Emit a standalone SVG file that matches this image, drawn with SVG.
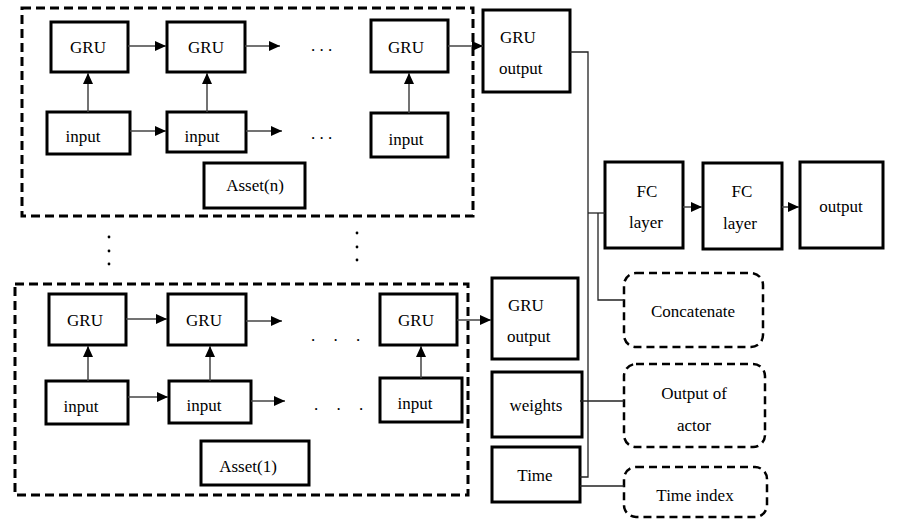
<svg xmlns="http://www.w3.org/2000/svg" width="899" height="526" viewBox="0 0 899 526" font-family="'Liberation Serif', 'DejaVu Serif', serif">
<style>
.b{fill:#fff;stroke:#000;stroke-width:3}
.d{fill:none;stroke:#000;stroke-width:3;stroke-dasharray:9 5}
.r{fill:#fff;stroke:#000;stroke-width:2.5;stroke-dasharray:8 5}
.c{fill:none;stroke:#222;stroke-width:1.3}
.a{fill:none;stroke:#444;stroke-width:1.5;marker-end:url(#ah)}
text{font-family:'Liberation Serif','DejaVu Serif',serif;font-size:17px;fill:#000}
.m{text-anchor:middle}
</style>
<defs>
<marker id="ah" markerUnits="userSpaceOnUse" markerWidth="12" markerHeight="12" refX="11" refY="6" orient="auto">
<path d="M0,1 L11,6 L0,11 Z" fill="#000"/>
</marker>
</defs>
<g id="assetN">
<rect class="d" x="22" y="8" width="451" height="208"/>
<g id="n-gru1"><rect class="b" x="51" y="22" width="77" height="50"/><text class="m" x="88" y="53">GRU</text></g>
<g id="n-gru2"><rect class="b" x="167" y="22" width="78" height="50"/><text class="m" x="206" y="53">GRU</text></g>
<g id="n-gru3"><rect class="b" x="371" y="20" width="77" height="52"/><text class="m" x="406" y="53">GRU</text></g>
<g id="n-in1"><rect class="b" x="47" y="112" width="83" height="42"/><text class="m" x="83" y="142">input</text></g>
<g id="n-in2"><rect class="b" x="167" y="112" width="79" height="40"/><text class="m" x="202" y="142">input</text></g>
<g id="n-in3"><rect class="b" x="371" y="113" width="77" height="44"/><text class="m" x="406" y="145">input</text></g>
<g id="n-asset"><rect class="b" x="204" y="163" width="101" height="45"/><text class="m" x="255" y="191">Asset(n)</text></g>
<text x="311" y="51">. . .</text>
<text x="311" y="139">. . .</text>
</g>
<g id="dots">
<circle cx="109" cy="237" r="1.4"/><circle cx="109" cy="251" r="1.4"/><circle cx="109" cy="264" r="1.4"/>
<circle cx="357" cy="233" r="1.4"/><circle cx="357" cy="247" r="1.4"/><circle cx="357" cy="260" r="1.4"/>
</g>
<g id="asset1">
<rect class="d" x="15" y="284" width="453" height="211"/>
<g id="a-gru1"><rect class="b" x="49" y="294" width="77" height="51"/><text class="m" x="85" y="326">GRU</text></g>
<g id="a-gru2"><rect class="b" x="168" y="294" width="78" height="51"/><text class="m" x="204" y="326">GRU</text></g>
<g id="a-gru3"><rect class="b" x="380" y="294" width="77" height="51"/><text class="m" x="416" y="326">GRU</text></g>
<g id="a-in1"><rect class="b" x="46" y="381" width="82" height="43"/><text class="m" x="81" y="412">input</text></g>
<g id="a-in2"><rect class="b" x="169" y="381" width="82" height="42"/><text class="m" x="204" y="411">input</text></g>
<g id="a-in3"><rect class="b" x="380" y="378" width="82" height="44"/><text class="m" x="415" y="409">input</text></g>
<g id="a-asset"><rect class="b" x="201" y="441" width="108" height="44"/><text class="m" x="248" y="472">Asset(1)</text></g>
<text x="311" y="341" letter-spacing="7">. . .</text>
<text x="314" y="410" letter-spacing="7">. . .</text>
</g>
<g id="gruOutTop"><rect class="b" x="483" y="10" width="87" height="82"/><text x="500" y="43">GRU</text><text x="499" y="74">output</text></g>
<g id="gruOutBot"><rect class="b" x="492" y="278" width="86" height="81"/><text x="508" y="311">GRU</text><text x="507" y="342">output</text></g>
<g id="weights"><rect class="b" x="492" y="372" width="90" height="65"/><text class="m" x="536" y="411">weights</text></g>
<g id="time"><rect class="b" x="492" y="447" width="88" height="55"/><text class="m" x="535" y="481">Time</text></g>
<g id="fc1"><rect class="b" x="605" y="162" width="78" height="86"/><text class="m" x="647" y="197">FC</text><text class="m" x="646" y="228">layer</text></g>
<g id="fc2"><rect class="b" x="703" y="163" width="79" height="86"/><text class="m" x="742" y="197">FC</text><text class="m" x="740" y="229">layer</text></g>
<g id="output"><rect class="b" x="800" y="162" width="83" height="86"/><text class="m" x="841" y="212">output</text></g>
<g id="concat"><rect class="r" x="624" y="273" width="139" height="74" rx="12"/><text class="m" x="693" y="317">Concatenate</text></g>
<g id="actor"><rect class="r" x="624" y="364" width="141" height="83" rx="12"/><text class="m" x="694" y="399">Output of</text><text class="m" x="694" y="431">actor</text></g>
<g id="timeidx"><rect class="r" x="624" y="467" width="143" height="50" rx="12"/><text class="m" x="695" y="501">Time index</text></g>
<g id="connectors">
<line class="a" x1="128" y1="46" x2="166" y2="46"/>
<line class="a" x1="245" y1="46" x2="280" y2="46"/>
<line class="a" x1="448" y1="46" x2="483" y2="46"/>
<line class="a" x1="130" y1="131" x2="166" y2="131"/>
<line class="a" x1="246" y1="131" x2="282" y2="131"/>
<line class="a" x1="88" y1="112" x2="88" y2="73"/>
<line class="a" x1="207" y1="112" x2="207" y2="73"/>
<line class="a" x1="409" y1="113" x2="409" y2="73"/>
<line class="a" x1="126" y1="319" x2="167" y2="319"/>
<line class="a" x1="246" y1="321" x2="282" y2="321"/>
<line class="a" x1="128" y1="397" x2="168" y2="397"/>
<line class="a" x1="251" y1="401" x2="285" y2="401"/>
<line class="a" x1="88" y1="381" x2="88" y2="346"/>
<line class="a" x1="210" y1="381" x2="210" y2="346"/>
<line class="a" x1="421" y1="378" x2="421" y2="346"/>
<line class="a" x1="457" y1="320" x2="491" y2="320"/>
<line class="a" x1="683" y1="207" x2="702" y2="207"/>
<line class="a" x1="782" y1="207" x2="799" y2="207"/>
<polyline class="c" points="570,52 588,52 588,477 580,477"/>
<line class="c" x1="588" y1="213" x2="605" y2="213"/>
<polyline class="c" points="598,213 598,300 624,300"/>
<line class="c" x1="580" y1="401" x2="624" y2="401"/>
<line class="c" x1="580" y1="486" x2="624" y2="486"/>
</g>
</svg>
